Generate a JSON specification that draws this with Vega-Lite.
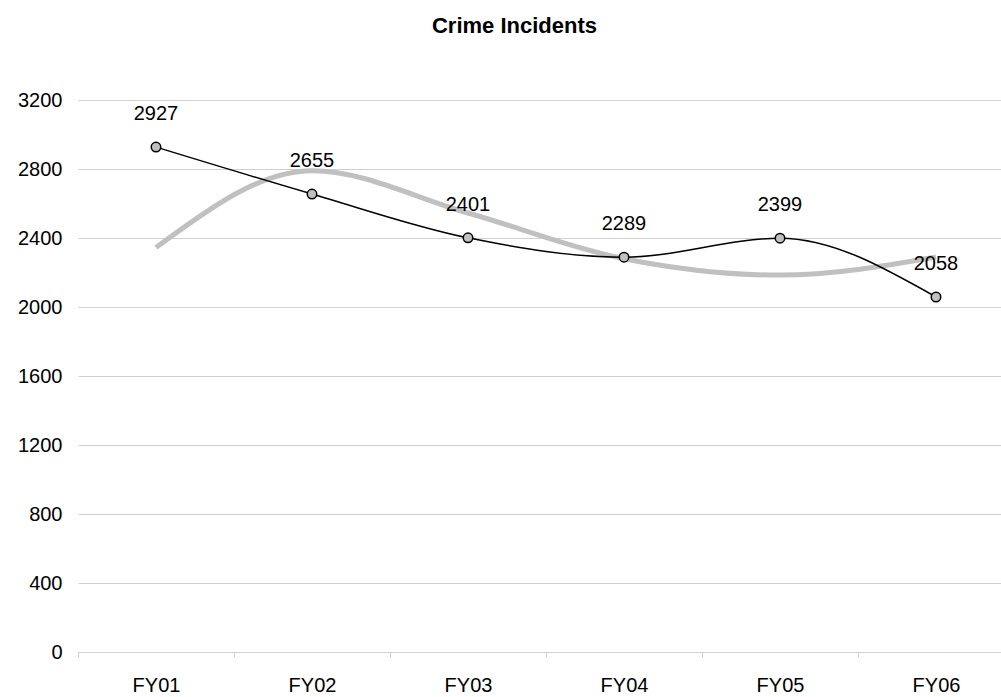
{
  "$schema": "https://vega.github.io/schema/vega-lite/v6.json",
  "autosize": "none",
  "padding": {"left": 78, "top": 100, "right": 0, "bottom": 45},
  "width": 923,
  "height": 552,
  "background": "white",
  "title": {
    "text": "Crime Incidents",
    "font": "Liberation Sans",
    "fontSize": 22,
    "fontWeight": "bold",
    "color": "black",
    "anchor": "middle",
    "dx": -25,
    "offset": 52
  },
  "config": {
    "view": {"stroke": null},
    "font": "Liberation Sans"
  },
  "data": {
    "values": [
      {"fy": "FY01", "incidents": 2927, "trend": 2345},
      {"fy": "FY02", "incidents": 2655, "trend": 2790},
      {"fy": "FY03", "incidents": 2401, "trend": 2545},
      {"fy": "FY04", "incidents": 2289, "trend": 2280},
      {"fy": "FY05", "incidents": 2399, "trend": 2185},
      {"fy": "FY06", "incidents": 2058, "trend": 2290}
    ]
  },
  "encoding": {
    "x": {
      "field": "fy",
      "type": "ordinal",
      "sort": null,
      "scale": {"type": "band", "range": [0, 936], "paddingInner": 0, "paddingOuter": 0},
      "axis": {
        "title": null,
        "labelAngle": 0,
        "labelFontSize": 20,
        "labelColor": "black",
        "labelPadding": 18,
        "tickBand": "extent",
        "tickSize": 5,
        "tickColor": "#d0d0d0",
        "domainColor": "#d0d0d0",
        "grid": false
      }
    }
  },
  "layer": [
    {
      "mark": {"type": "line", "color": "#c0c0c0", "strokeWidth": 5, "interpolate": "monotone"},
      "encoding": {
        "y": {
          "field": "trend",
          "type": "quantitative",
          "scale": {"domain": [0, 3200], "nice": false},
          "axis": {
            "title": null,
            "values": [0, 400, 800, 1200, 1600, 2000, 2400, 2800, 3200],
            "format": "d",
            "labelFontSize": 20,
            "labelColor": "black",
            "labelPadding": 16,
            "ticks": false,
            "domain": false,
            "gridColor": "#d0d0d0",
            "gridWidth": 1
          }
        }
      }
    },
    {
      "mark": {"type": "line", "color": "black", "strokeWidth": 1.5, "interpolate": "monotone"},
      "encoding": {"y": {"field": "incidents", "type": "quantitative"}}
    },
    {
      "mark": {"type": "point", "shape": "circle", "filled": true, "fill": "#c0c0c0", "stroke": "black", "strokeWidth": 1.5, "size": 90, "opacity": 1},
      "encoding": {"y": {"field": "incidents", "type": "quantitative"}}
    },
    {
      "mark": {"type": "text", "fontSize": 20, "color": "black", "baseline": "alphabetic", "dy": -27},
      "encoding": {
        "y": {"field": "incidents", "type": "quantitative"},
        "text": {"field": "incidents", "type": "quantitative", "format": "d"}
      }
    }
  ]
}
